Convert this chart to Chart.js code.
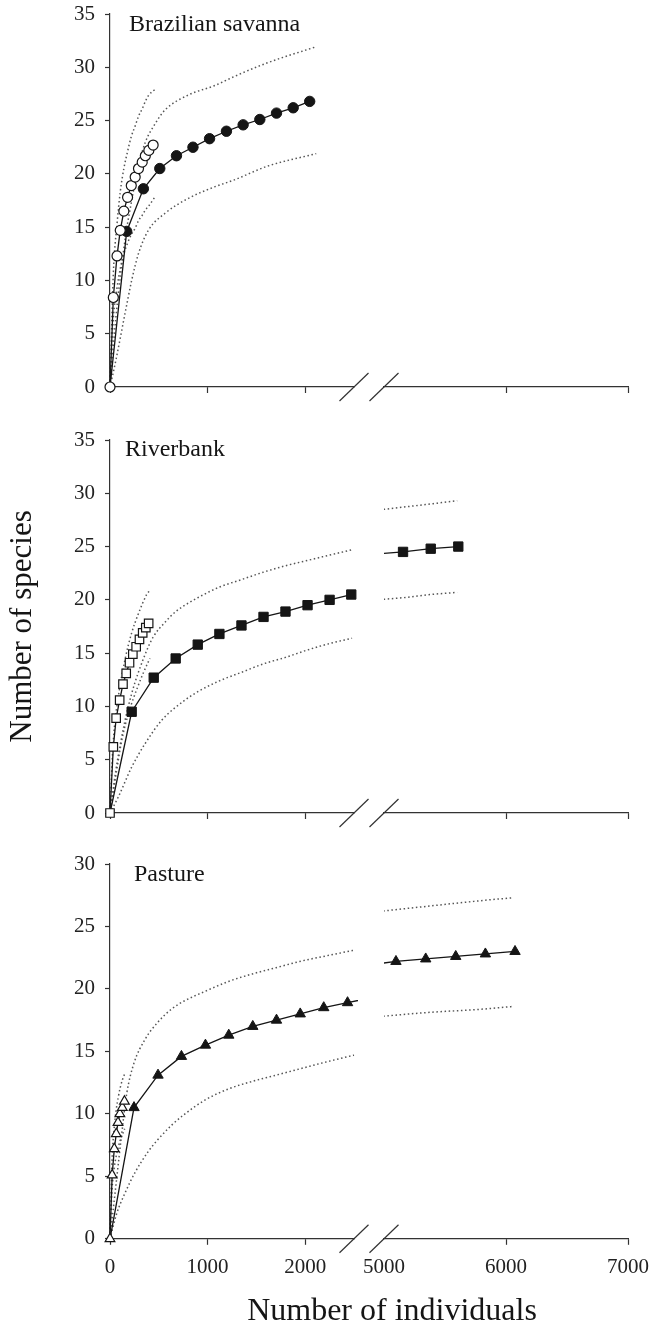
<!DOCTYPE html>
<html><head><meta charset="utf-8">
<script src="https://cdn.jsdelivr.net/npm/chart.js@4.4.0/dist/chart.umd.min.js"></script>
<style>
html,body{margin:0;padding:0;background:#fff;}
#wrap{position:relative;width:650px;height:1327px;background:#fff;}
.pc{position:absolute;left:0;width:650px;}
canvas{display:block;}
</style></head><body>
<div id="wrap">
<div class="pc" style="top:0;height:410px"><canvas id="c1" width="650" height="410"></canvas></div>
<div class="pc" style="top:410px;height:420px"><canvas id="c2" width="650" height="420"></canvas></div>
<div class="pc" style="top:830px;height:497px"><canvas id="c3" width="650" height="497"></canvas></div>
</div>
<script>
// ---------- tick labels ----------
const yTicks35 = [0, 5, 10, 15, 20, 25, 30, 35];
const yTicks30 = [0, 5, 10, 15, 20, 25, 30];
const xTicksLeft = [0, 1000, 2000];
const xTicksRight = [5000, 6000, 7000];
const panelNames = ['Brazilian savanna', 'Riverbank', 'Pasture'];
const yTitle = 'Number of species';
const xTitle = 'Number of individuals';

// ---------- Brazilian savanna ----------
const savOpenX = [0, 34, 72, 105, 142, 180, 218, 258, 292, 330, 362, 398, 442];
const savOpenY = [0, 8.4, 12.3, 14.7, 16.5, 17.8, 18.9, 19.7, 20.5, 21.1, 21.7, 22.2, 22.7];
const savFillX = [0, 171, 342, 510, 681, 850, 1020, 1193, 1364, 1535, 1706, 1877, 2046];
const savFillY = [0, 14.6, 18.6, 20.5, 21.7, 22.5, 23.3, 24.0, 24.6, 25.1, 25.7, 26.2, 26.8];
const savOpenCIX = [0, 34, 72, 105, 142, 180, 218, 258, 292, 330, 362, 398, 458];
const savOpenUp = [0, 10.6, 15.3, 18.3, 20.5, 22.1, 23.5, 24.5, 25.4, 26.1, 26.8, 27.4, 27.9];
const savOpenLo = [0, 6.4, 9.3, 11.1, 12.5, 13.5, 14.3, 14.9, 15.6, 16.1, 16.6, 17.0, 17.8];
const savFillUpX = [0, 60, 154, 222, 291, 359, 462, 564, 803, 1077, 1265, 1607, 2103];
const savFillUp = [0, 6.5, 13.8, 17.5, 20.7, 22.9, 24.7, 26.0, 27.4, 28.3, 29.1, 30.4, 31.9];
const savFillLoX = [0, 60, 154, 222, 291, 393, 564, 803, 1077, 1265, 1607, 2113];
const savFillLo = [0, 2.5, 6.9, 10.0, 12.5, 14.7, 16.3, 17.7, 18.8, 19.4, 20.7, 21.9];

// ---------- Riverbank ----------
const rivOpenX = [0, 34, 63, 99, 133, 166, 200, 234, 268, 302, 335, 367, 396];
const rivOpenY = [0, 6.2, 8.9, 10.6, 12.1, 13.1, 14.1, 14.9, 15.6, 16.3, 16.9, 17.4, 17.8];
const rivFillX = [0, 222, 448, 673, 899, 1121, 1347, 1573, 1798, 2024, 2250, 2472];
const rivFillY = [0, 9.5, 12.7, 14.5, 15.8, 16.8, 17.6, 18.4, 18.9, 19.5, 20.0, 20.5];
const rivFillRX = [4930, 5156, 5383, 5609];
const rivFillRY = [24.3, 24.5, 24.8, 25.0];
const rivOpenUpX = [0, 20, 40, 85, 154, 222, 291, 376, 400];
const rivOpenUp = [0, 4.5, 7.5, 10.9, 14.4, 16.9, 18.7, 20.5, 20.8];
const rivOpenLoX = [0, 51, 120, 188, 291, 393, 410];
const rivOpenLo = [0, 3.0, 6.8, 9.3, 12.0, 14.2, 14.5];
const rivFillUpX = [0, 60, 150, 222, 291, 393, 448, 564, 673, 803, 899, 1121, 1347, 1573, 1798, 2024, 2250, 2480];
const rivFillUp = [0, 4.0, 8.5, 11.2, 13.2, 15.6, 16.6, 17.9, 18.9, 19.7, 20.2, 21.2, 21.9, 22.6, 23.2, 23.7, 24.2, 24.7];
const rivFillLoX = [0, 85, 222, 359, 530, 769, 923, 1121, 1347, 1573, 1798, 2024, 2250, 2480];
const rivFillLo = [0, 1.5, 4.3, 6.5, 8.7, 10.6, 11.5, 12.4, 13.2, 14.0, 14.6, 15.3, 15.9, 16.4];
const rivRCIX = [4930, 5156, 5383, 5600];
const rivRUp = [28.4, 28.7, 29.0, 29.3];
const rivRLo = [20.0, 20.2, 20.5, 20.7];

// ---------- Pasture ----------
const pasOpenX = [0, 22, 44, 64, 82, 101, 126, 148];
const pasOpenY = [0, 5.1, 7.2, 8.4, 9.3, 10.0, 10.5, 11.0];
const pasFillX = [0, 246, 492, 732, 978, 1217, 1463, 1706, 1949, 2190, 2434, 2677];
const pasFillY = [0, 10.5, 13.1, 14.6, 15.5, 16.3, 17.0, 17.5, 18.0, 18.5, 18.9, 19.3];
const pasFillRX = [4860, 5098, 5342, 5588, 5831, 6074];
const pasFillRY = [21.9, 22.2, 22.4, 22.6, 22.8, 23.0];
const pasOpenCIX = [0, 21, 42, 63, 84, 105, 126, 150];
const pasOpenUp = [0, 6.3, 8.8, 10.3, 11.3, 12.1, 12.7, 13.2];
const pasOpenLo = [0, 3.9, 5.6, 6.6, 7.3, 7.9, 8.3, 8.8];
const pasFillUpX = [0, 68, 120, 171, 243, 362, 486, 632, 752, 972, 1215, 1458, 1701, 1944, 2187, 2500];
const pasFillUp = [0, 4.8, 8.4, 11.6, 14.0, 16.0, 17.3, 18.4, 19.0, 19.8, 20.6, 21.2, 21.7, 22.2, 22.6, 23.1];
const pasFillLoX = [0, 68, 150, 256, 393, 486, 632, 752, 972, 1215, 1458, 1701, 1944, 2187, 2500];
const pasFillLo = [0, 2.0, 3.6, 5.3, 7.0, 7.9, 9.1, 9.9, 11.1, 12.0, 12.6, 13.1, 13.6, 14.1, 14.7];
const pasRCIX = [4860, 5340, 5830, 6060];
const pasRUp = [26.1, 26.6, 27.1, 27.3];
const pasRLo = [17.7, 18.1, 18.4, 18.6];

// ---------- helpers ----------
Chart.defaults.font.family = '"Liberation Serif", "Times New Roman", serif';
const INK = '#151515';
const AX = '#333';
const pts = (xs, ys) => xs.map((x, i) => ({x: x, y: ys[i]}));
const CLIP_L = {left: 12, top: 12, bottom: 12, right: 4};
const CLIP_R = {left: 0, top: 12, bottom: 12, right: 12};

function marker(xs, ys, shape, r, open, axis, hideFirst) {
  return {
    data: pts(xs, ys), xAxisID: axis, showLine: true, tension: 0,
    borderColor: INK, borderWidth: 1.3,
    pointStyle: shape,
    pointRadius: hideFirst ? (c => c.dataIndex === 0 ? 0 : r) : r,
    pointBackgroundColor: open ? '#fff' : INK,
    pointBorderColor: INK, pointBorderWidth: open ? 1.2 : 1,
    clip: axis === 'x' ? CLIP_L : CLIP_R
  };
}
function dotted(xs, ys, axis) {
  return {
    data: pts(xs, ys), xAxisID: axis, showLine: true,
    cubicInterpolationMode: 'monotone',
    borderColor: '#555', borderWidth: 1.5, borderDash: [1.5, 2.6],
    pointRadius: 0, clip: axis === 'x' ? CLIP_L : CLIP_R
  };
}

const decor = {
  id: 'decor',
  afterDraw(chart, args, o) {
    const ctx = chart.ctx, xs = chart.scales.x, x2 = chart.scales.x2, yb = chart.scales.y.bottom;
    ctx.save();
    ctx.strokeStyle = AX; ctx.lineWidth = 1.2;
    [xs.right, x2.left].forEach(cx => {
      ctx.beginPath(); ctx.moveTo(cx - 14.5, yb + 14); ctx.lineTo(cx + 14.5, yb - 14); ctx.stroke();
    });
    ctx.fillStyle = INK; ctx.textAlign = 'left'; ctx.textBaseline = 'alphabetic';
    ctx.font = '24px "Liberation Serif"';
    ctx.fillText(o.label, chart.chartArea.left + o.dx, chart.chartArea.top + o.dy);
    if (o.xTitle) {
      ctx.font = '32px "Liberation Serif"'; ctx.textAlign = 'center';
      ctx.fillText(o.xTitle, o.tx, o.ty);
    }
    ctx.restore();
  }
};

function xAxis(min, max, weight, ticksArr, showLabels) {
  return {
    type: 'linear', position: 'bottom', stack: 'xb', stackWeight: weight, min: min, max: max,
    afterBuildTicks: s => { s.ticks = ticksArr.map(v => ({value: v})); },
    afterFit: s => { s.paddingLeft = 0; s.paddingRight = 0; },
    grid: {display: true, drawOnChartArea: false, drawTicks: true, tickLength: 6, tickWidth: 1.2,
           tickColor: c => (c.tick && c.tick.value === 5000) ? 'rgba(0,0,0,0)' : AX},
    border: {display: true, color: AX, width: 1.2},
    ticks: {display: showLabels, color: '#222', font: {size: 21}, padding: 10, maxRotation: 0, autoSkip: false,
            callback: v => String(v)}
  };
}

function makeChart(id, datasets, yMax, yTicksArr, pad, labelOpts, showX, withYTitle) {
  new Chart(document.getElementById(id), {
    type: 'scatter',
    data: {datasets: datasets},
    plugins: [decor],
    options: {
      responsive: false, animation: false, events: [],
      layout: {padding: pad},
      plugins: {legend: {display: false}, tooltip: {enabled: false}, decor: labelOpts},
      scales: {
        x: xAxis(0, 2500, 244, xTicksLeft, showX),
        xgap: {type: 'linear', position: 'bottom', stack: 'xb', stackWeight: 30, min: 0, max: 1,
               afterFit: s => { s.paddingLeft = 0; s.paddingRight = 0; s.height = 0; },
               grid: {display: false, drawTicks: false}, border: {display: false}, ticks: {display: false}},
        x2: xAxis(5000, 7000, 244, xTicksRight, showX),
        y: {
          type: 'linear', position: 'left', min: 0, max: yMax,
          afterBuildTicks: s => { s.ticks = yTicksArr.map(v => ({value: v})); },
          afterFit: s => { s.width = 110; s.paddingTop = 0; s.paddingBottom = 0; },
          grid: {display: true, drawOnChartArea: false, drawTicks: true, tickLength: 5, tickWidth: 1.2, tickColor: AX},
          border: {display: true, color: AX, width: 1.2},
          ticks: {color: '#222', font: {size: 21}, padding: 10, callback: v => String(v)},
          title: {display: withYTitle, text: yTitle, color: INK, font: {size: 31}, padding: {top: 4, bottom: 0}}
        }
      }
    }
  });
}

// Panel 1
makeChart('c1', [
  marker(savOpenX, savOpenY, 'circle', 5, true, 'x', false),
  marker(savFillX, savFillY, 'circle', 5.2, false, 'x', true),
  dotted(savOpenCIX, savOpenUp, 'x'), dotted(savOpenCIX, savOpenLo, 'x'),
  dotted(savFillUpX, savFillUp, 'x'), dotted(savFillLoX, savFillLo, 'x')
], 35, yTicks35, {top: 14, right: 22, bottom: 17, left: 0},
  {label: panelNames[0], dx: 19, dy: 17}, false, false);

// Panel 2
makeChart('c2', [
  marker(rivOpenX, rivOpenY, 'rect', 6, true, 'x', false),
  marker(rivFillX, rivFillY, 'rect', 6.6, false, 'x', true),
  marker(rivFillRX, rivFillRY, 'rect', 6.6, false, 'x2', false),
  dotted(rivOpenUpX, rivOpenUp, 'x'), dotted(rivOpenLoX, rivOpenLo, 'x'),
  dotted(rivFillUpX, rivFillUp, 'x'), dotted(rivFillLoX, rivFillLo, 'x'),
  dotted(rivRCIX, rivRUp, 'x2'), dotted(rivRCIX, rivRLo, 'x2')
], 35, yTicks35, {top: 30, right: 22, bottom: 11, left: 0},
  {label: panelNames[1], dx: 15, dy: 15.5}, false, true);

// Panel 3
makeChart('c3', [
  marker(pasOpenX, pasOpenY, 'triangle', 5.6, true, 'x', false),
  marker(pasFillX, pasFillY, 'triangle', 6, false, 'x', true),
  marker(pasFillRX, pasFillRY, 'triangle', 6, false, 'x2', false),
  dotted(pasOpenCIX, pasOpenUp, 'x'), dotted(pasOpenCIX, pasOpenLo, 'x'),
  dotted(pasFillUpX, pasFillUp, 'x'), dotted(pasFillLoX, pasFillLo, 'x'),
  dotted(pasRCIX, pasRUp, 'x2'), dotted(pasRCIX, pasRLo, 'x2')
], 30, yTicks30, {top: 34, right: 22, bottom: 37, left: 0},
  {label: panelNames[2], dx: 24, dy: 16.7, xTitle: xTitle, tx: 392, ty: 490}, true, false);
</script>
</body></html>
